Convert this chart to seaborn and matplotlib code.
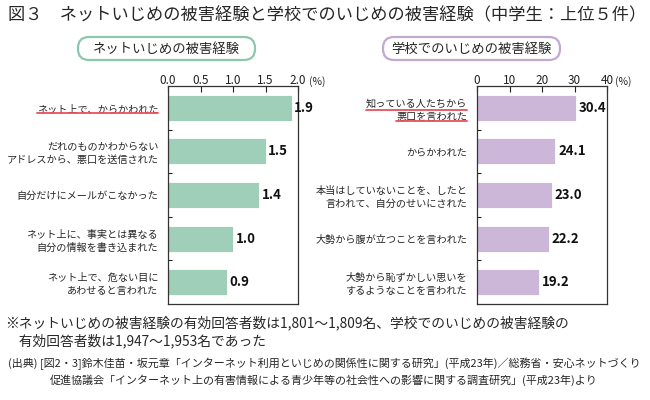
import matplotlib
matplotlib.use("Agg")
import matplotlib.pyplot as plt
import numpy as np
import pandas as pd
import seaborn as sns
from matplotlib.patches import FancyBboxPatch

# --- data -----------------------------------------------------------------
NET_LABELS = [
    "ネット上で、からかわれた",
    "だれのものかわからない\nアドレスから、悪口を送信された",
    "自分だけにメールがこなかった",
    "ネット上に、事実とは異なる\n自分の情報を書き込まれた",
    "ネット上で、危ない目に\nあわせると言われた",
]
NET_VALUES = [1.9, 1.5, 1.4, 1.0, 0.9]
NET_TICKS = [0.0, 0.5, 1.0, 1.5, 2.0]
NET_TICKLABELS = ["0.0", "0.5", "1.0", "1.5", "2.0"]

SCHOOL_LABELS = [
    "知っている人たちから\n悪口を言われた",
    "からかわれた",
    "本当はしていないことを、したと\n言われて、自分のせいにされた",
    "大勢から腹が立つことを言われた",
    "大勢から恥ずかしい思いを\nするようなことを言われた",
]
SCHOOL_VALUES = [30.4, 24.1, 23.0, 22.2, 19.2]
SCHOOL_TICKS = [0, 10, 20, 30, 40]
SCHOOL_TICKLABELS = ["0", "10", "20", "30", "40"]

TITLE = "図３　ネットいじめの被害経験と学校でのいじめの被害経験（中学生：上位５件）"
PANEL_TITLES = ["ネットいじめの被害経験", "学校でのいじめの被害経験"]
NOTE = ("※ネットいじめの被害経験の有効回答者数は1,801～1,809名、学校でのいじめの被害経験の\n"
        "　有効回答者数は1,947～1,953名であった")
SOURCE = ("(出典) [図2・3]鈴木佳苗・坂元章「インターネット利用といじめの関係性に関する研究」(平成23年)／総務省・安心ネットづくり\n"
          "促進協議会「インターネット上の有害情報による青少年等の社会性への影響に関する調査研究」(平成23年)より")

GREEN = "#9fcfb8"
GREEN_EDGE = "#8cc8ad"
PURPLE = "#cdb7d8"
PURPLE_EDGE = "#c3a9d1"
RED = "#e8505b"

sns.set_theme(style="white")
plt.rcParams["font.family"] = ["Noto Sans CJK JP", "DejaVu Sans"]

fig = plt.figure(figsize=(6.5, 4.0), dpi=100)
W, H = 650, 400


def px_axes(x0, x1, y0, y1):
    return fig.add_axes([x0 / W, 1 - y1 / H, (x1 - x0) / W, (y1 - y0) / H])


ax_net = px_axes(168, 298, 86, 304)
ax_sch = px_axes(477, 607, 86, 304)

panels = [
    (ax_net, NET_LABELS, NET_VALUES, NET_TICKS, NET_TICKLABELS, GREEN, 2.0, 11),
    (ax_sch, SCHOOL_LABELS, SCHOOL_VALUES, SCHOOL_TICKS, SCHOOL_TICKLABELS, PURPLE, 40, 8),
]

for ax, labels, values, ticks, ticklabels, color, xmax, pct_off in panels:
    df = pd.DataFrame({"label": labels, "value": values})
    sns.barplot(data=df, y="label", x="value", orient="h", color=color,
                saturation=1, width=0.6, edgecolor="white", linewidth=0.6, ax=ax)
    ax.bar_label(ax.containers[0], fmt="%.1f", padding=2, fontsize=9.5,
                 fontweight="bold", color="#111111")
    ax.set_xlim(0, xmax)
    ax.set_ylim(4.5, -0.5)
    ax.set_xlabel("")
    ax.set_ylabel("")
    ax.xaxis.tick_top()
    ax.set_xticks(ticks)
    ax.set_xticklabels(ticklabels, fontsize=8.5)
    ax.tick_params(axis="x", which="major", direction="in", length=4, width=0.8,
                   pad=-1, top=True, bottom=False, colors="#222222")
    # "(%)" unit after the last tick label
    ax.annotate("(%)", xy=(1, 1), xycoords="axes fraction",
                xytext=(pct_off * 0.72, -0.9), textcoords="offset points",
                fontsize=7.5, ha="left", va="bottom")
    ax.set_yticks(np.arange(len(labels)))
    ax.set_yticklabels(labels, fontsize=7.3, linespacing=1.35)
    ax.set_yticks(np.arange(len(labels) - 1) + 0.5, minor=True)
    ax.tick_params(axis="y", which="major", length=0, pad=7)
    ax.tick_params(axis="y", which="minor", direction="in", length=3, width=0.8,
                   left=True, colors="#222222")
    for s in ax.spines.values():
        s.set_color("#333333")
        s.set_linewidth(0.9)

# title
fig.text(8 / W, 1 - 15 / H, TITLE, fontsize=12.4, va="center", ha="left")

# rounded panel headers
for (x0, x1), text, edge in [((78, 255), PANEL_TITLES[0], GREEN_EDGE),
                             ((383, 560), PANEL_TITLES[1], PURPLE_EDGE)]:
    y0, y1 = 37, 60
    box = FancyBboxPatch((x0 / 100, (H - y1) / 100), (x1 - x0) / 100, (y1 - y0) / 100,
                         boxstyle="round,pad=0,rounding_size=0.11",
                         transform=fig.dpi_scale_trans, facecolor="white",
                         edgecolor=edge, linewidth=1.6)
    fig.patches.append(box)
    fig.text((x0 + x1) / 2 / W, 1 - (y0 + y1) / 2 / H, text, fontsize=9.6,
             ha="center", va="center")

# notes
fig.text(5 / W, 1 - 332 / H, NOTE, fontsize=9.9, ha="left", va="center",
         linespacing=1.25)
fig.text(324 / W, 1 - 372 / H, SOURCE, fontsize=7.95, ha="center", va="center",
         linespacing=1.5)

# red underlines under the highlighted labels
fig.canvas.draw()
renderer = fig.canvas.get_renderer()
inv = fig.transFigure.inverted()
for ax, idx in [(ax_net, 0), (ax_sch, 0)]:
    lab = ax.get_yticklabels()[idx]
    bb = lab.get_window_extent(renderer)
    lines = lab.get_text().split("\n")
    n = len(lines)
    lh = bb.height / n
    for i, line in enumerate(lines):
        tmp = fig.text(0, 0, line, fontproperties=lab.get_fontproperties())
        w = tmp.get_window_extent(renderer).width
        tmp.remove()
        yb = bb.y1 - (i + 1) * lh + 0.5
        (fx0, fy), (fx1, _) = inv.transform([(bb.x1 - w, yb), (bb.x1, yb)])
        fig.add_artist(plt.Line2D([fx0, fx1], [fy, fy], transform=fig.transFigure,
                                  color=RED, linewidth=1.3))

fig.savefig("out.png", dpi=100)
